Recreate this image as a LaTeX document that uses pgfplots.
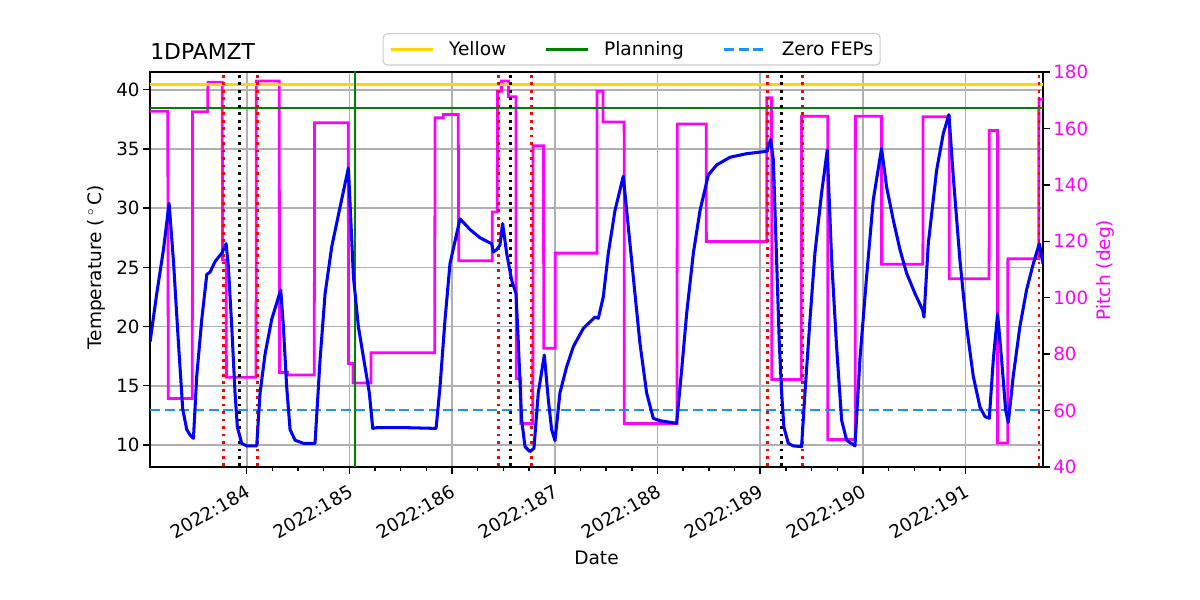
\documentclass[border=0pt]{standalone}
\usepackage{fontspec}
\setmainfont{DejaVu Sans}
\usepackage{pgfplots}
\pgfplotsset{compat=1.18}
\definecolor{mplgrid}{HTML}{B0B0B0}
\definecolor{gold}{HTML}{FFD700}
\definecolor{mplgreen}{HTML}{008000}
\definecolor{dodger}{HTML}{1E90FF}
\definecolor{mag}{HTML}{FF00FF}
\newcommand{\tickfont}{\fontsize{13.2}{15}\selectfont}
\newcommand{\labfont}{\fontsize{13.4}{16}\selectfont}
\pgfplotsset{
  base/.style={
    at={(1.5in,1.33in)}, anchor=south west, scale only axis,
    width=8.93in, height=3.95in,
    xmin=183.058, xmax=191.754,
  },
  dotline/.style={line width=1.9pt, dash pattern=on 2pt off 3.4pt, forget plot},
}
\begin{document}
\begin{tikzpicture}
\path[use as bounding box] (0,0) rectangle (12in,6in);
% ---------- axis 1: temperature frame, grid, labels, legend ----------
\begin{axis}[base,
  ymin=8.14, ymax=41.5,
  xtick={184,185,186,187,188,189,190,191},
  xticklabels={2022:184,2022:185,2022:186,2022:187,2022:188,2022:189,2022:190,2022:191},
  minor x tick num=3,
  ytick={10,15,20,25,30,35,40},
  grid=major, major grid style={color=mplgrid, line width=1.15pt},
  tick align=outside, tick pos=left,
  major tick length=5pt, minor tick length=3pt,
  every tick/.style={black, line width=1pt},
  axis line style={line width=1.45pt},
  /pgf/number format/assume math mode=true,
  tick label style={font=\tickfont},
  xticklabel style={inner sep=0pt, xshift=-1.4pt, yshift=-7pt, rotate=30, anchor=north east},
  yticklabel style={inner sep=0pt, xshift=-2.3pt},
  xlabel={Date}, ylabel={Temperature (\,$^\circ$\,C)},
  label style={font=\labfont},
  xlabel style={at={(axis description cs:0.5,-0.2304)}, anchor=center},
  ylabel style={at={(axis description cs:-0.0605,0.505)}, anchor=center},
  title={1DPAMZT},
  every axis title shift=0pt,
  title style={at={(axis description cs:0,1)}, anchor=base west, yshift=9pt, font=\fontsize{15.8}{18}\selectfont, inner sep=0pt},
  legend columns=3,
  legend cell align=left,
  legend style={at={(axis description cs:0.5394,1.0575)}, anchor=center,
    draw=black!20, line width=0.8pt, rounded corners=3pt, fill=white, font=\labfont,
    inner xsep=5pt, inner ysep=5.5pt,
    nodes={inner sep=0pt},
    /tikz/every odd column/.append style={column sep=10.8pt},
    /tikz/every even column/.append style={column sep=28pt}},
  legend image code/.code={\draw[#1] (0pt,0pt) -- (30pt,0pt);},
]
\addlegendimage{gold, line width=1.9pt}
\addlegendentry{Yellow}
\addlegendimage{mplgreen, line width=1.9pt}
\addlegendentry{Planning}
\addlegendimage{dodger, line width=1.9pt, dash pattern=on 7.2pt off 3.4pt}
\addlegendentry{Zero FEPs}
\end{axis}
% ---------- axis 2: pitch ----------
\begin{axis}[base,
  ymin=40, ymax=180,
  axis x line=none, axis y line*=right,
  ytick={40,60,80,100,120,140,160,180},
  tick align=outside,
  major tick length=5pt,
  every tick/.style={black, line width=1pt},
  axis line style={line width=1.45pt},
  /pgf/number format/assume math mode=true,
  tick label style={font=\tickfont},
  yticklabel style={color=mag, inner sep=0pt, xshift=2.3pt},
  ylabel={Pitch (deg)},
  ylabel style={font=\labfont, color=mag, at={(axis description cs:1.0694,0.4987)}, anchor=center, rotate=0},
]
\addplot[mag, line width=2pt, forget plot] coordinates {
(183.058,166.1) (183.231,166.1) (183.236,64.3) (183.470,64.3) (183.472,165.9) (183.620,165.9)
(183.622,176.4) (183.762,176.4) (183.764,113.4) (183.800,113.4) (183.802,71.8) (184.091,71.8)
(184.093,176.8) (184.317,176.8) (184.319,73.5) (184.400,73.5) (184.400,72.6) (184.658,72.6)
(184.660,162.0) (184.989,162.0) (184.991,76.7) (185.035,76.7) (185.035,69.8) (185.210,69.8)
(185.210,80.5) (185.831,80.5) (185.833,163.8) (185.914,163.8) (185.914,164.9) (186.060,164.9)
(186.064,113.1) (186.391,113.1) (186.391,130.4) (186.440,130.4) (186.442,173.2) (186.482,173.2)
(186.482,176.8) (186.550,176.8) (186.550,171.2) (186.622,171.2) (186.624,71.4) (186.668,71.4)
(186.668,55.4) (186.786,55.4) (186.788,153.9) (186.890,153.9) (186.892,82.1) (187.005,82.1)
(187.005,115.8) (187.410,115.8) (187.412,173.2) (187.469,173.2) (187.469,162.3) (187.675,162.3)
(187.677,55.4) (188.190,55.4) (188.192,161.6) (188.474,161.6) (188.476,119.9) (189.063,119.9)
(189.065,170.9) (189.111,170.9) (189.113,71.0) (189.400,71.0) (189.402,164.3) (189.657,164.3)
(189.659,49.7) (189.925,49.7) (189.927,164.3) (190.180,164.3) (190.182,111.9) (190.584,111.9)
(190.586,164.1) (190.840,164.1) (190.842,106.7) (191.229,106.7) (191.231,159.3) (191.310,159.3)
(191.312,48.5) (191.410,48.5) (191.412,113.8) (191.712,113.8) (191.714,170.3) (191.754,170.3)
};
\end{axis}
% ---------- axis 3: temperature data on top ----------
\begin{axis}[base, ymin=8.14, ymax=41.5, hide axis]
\addplot[gold, line width=1.9pt, forget plot] coordinates {(183.058,40.45) (191.754,40.45)};
\addplot[mplgreen, line width=1.9pt, forget plot] coordinates {(183.058,38.45) (191.754,38.45)};
\addplot[dodger, line width=1.9pt, dash pattern=on 7.2pt off 3.4pt, forget plot] coordinates {(183.058,12.95) (191.754,12.95)};
\addplot[mplgreen, line width=1.9pt, forget plot] coordinates {(185.055,0) (185.055,50)};
\addplot[red, dotline] coordinates {(183.772,0) (183.772,50)};
\addplot[red, dotline] coordinates {(184.103,0) (184.103,50)};
\addplot[red, dotline] coordinates {(186.454,0) (186.454,50)};
\addplot[red, dotline] coordinates {(186.772,0) (186.772,50)};
\addplot[red, dotline] coordinates {(189.069,0) (189.069,50)};
\addplot[red, dotline] coordinates {(189.410,0) (189.410,50)};
\addplot[red, dotline] coordinates {(191.716,0) (191.716,50)};
\addplot[black, dotline] coordinates {(183.928,0) (183.928,50)};
\addplot[black, dotline] coordinates {(186.567,0) (186.567,50)};
\addplot[black, dotline] coordinates {(189.206,0) (189.206,50)};
\addplot[blue, line width=2.2pt, line join=round, forget plot] coordinates {
(183.059,18.73) (183.124,22.8) (183.189,26.5) (183.244,30.4) (183.286,25.6) (183.335,18.6)
(183.377,13.0) (183.416,11.3) (183.448,10.85) (183.481,10.56) (183.513,15.8) (183.562,20.6)
(183.611,24.4) (183.643,24.6) (183.692,25.5) (183.757,26.2) (183.799,27.0) (183.821,25.1)
(183.854,20.0) (183.886,14.4) (183.909,11.5) (183.951,10.14) (184.000,9.92) (184.097,9.92)
(184.130,14.4) (184.179,17.7) (184.243,20.6) (184.331,23.1) (184.357,20.0) (184.389,14.9)
(184.422,11.3) (184.471,10.4) (184.552,10.14) (184.665,10.14) (184.714,17.2) (184.763,22.8)
(184.828,26.75) (184.909,30.1) (184.990,33.4) (185.039,24.2) (185.087,20.0) (185.152,16.6)
(185.194,14.4) (185.227,11.4) (185.266,11.46) (185.558,11.46) (185.844,11.4) (185.882,14.9)
(185.931,20.6) (185.979,25.3) (186.077,29.1) (186.174,28.2) (186.271,27.5) (186.385,27.0)
(186.401,26.3) (186.434,26.5) (186.466,26.9) (186.492,28.7) (186.531,26.2) (186.580,23.9)
(186.622,22.8) (186.645,18.6) (186.677,12.1) (186.710,9.86) (186.758,9.44) (186.797,9.72)
(186.839,14.4) (186.898,17.6) (186.937,13.8) (186.969,11.3) (187.002,10.37) (187.050,14.4)
(187.115,16.6) (187.180,18.3) (187.278,19.85) (187.391,20.8) (187.424,20.7) (187.472,22.5)
(187.521,26.2) (187.586,29.8) (187.667,32.7) (187.700,29.8) (187.764,24.2) (187.829,18.6)
(187.894,14.4) (187.959,12.25) (188.024,12.05) (188.186,11.83) (188.235,16.3) (188.284,21.1)
(188.349,26.2) (188.414,29.8) (188.495,32.8) (188.576,33.65) (188.706,34.3) (188.868,34.6)
(189.063,34.8) (189.102,35.8) (189.128,34.1) (189.160,25.6) (189.186,18.6) (189.209,14.4)
(189.231,11.5) (189.274,10.14) (189.322,9.92) (189.403,9.86) (189.436,14.4) (189.485,20.6)
(189.533,26.2) (189.598,31.3) (189.653,34.9) (189.696,25.6) (189.744,18.3) (189.793,12.1)
(189.842,10.4) (189.923,9.92) (189.971,17.2) (190.036,24.2) (190.101,30.7) (190.182,35.05)
(190.231,31.8) (190.296,29.0) (190.361,26.5) (190.426,24.5) (190.507,22.8) (190.582,21.4)
(190.595,20.8) (190.637,27.0) (190.718,33.2) (190.783,36.3) (190.838,37.9) (190.880,32.7)
(190.945,25.6) (191.010,20.0) (191.075,15.8) (191.140,13.2) (191.189,12.4) (191.231,12.25)
(191.270,17.2) (191.312,21.1) (191.351,17.2) (191.390,12.96) (191.416,11.89) (191.464,15.8)
(191.529,20.0) (191.594,23.1) (191.659,25.3) (191.718,27.0) (191.754,25.3)
};
\end{axis}
\end{tikzpicture}
\end{document}
